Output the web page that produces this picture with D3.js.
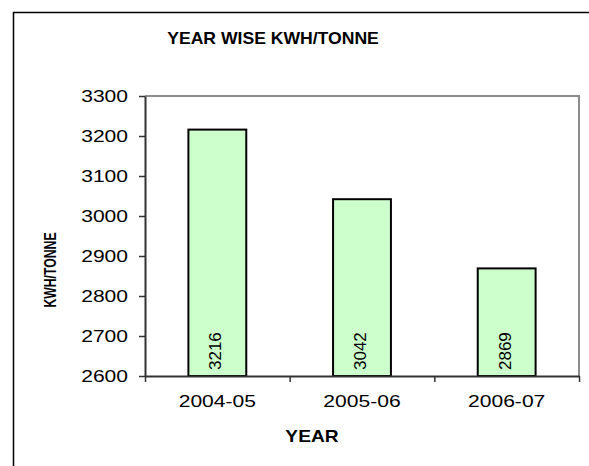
<!DOCTYPE html>
<html>
<head>
<meta charset="utf-8">
<script src="https://cdn.jsdelivr.net/npm/d3@7"></script>
<style>
  body { margin: 0; background: #fff; }
  text { font-family: "Liberation Sans", Arial, sans-serif; fill: #000; }
</style>
</head>
<body>
<div id="chart"></div>
<script>
// data
var years = ["2004-05", "2005-06", "2006-07"];
var kwhPerTonne = [3216, 3042, 2869];
var yTicks = [2600, 2700, 2800, 2900, 3000, 3100, 3200, 3300];

var margin = { top: 96, right: 10, bottom: 90, left: 145 };
var width = 589 - margin.left - margin.right,
    height = 466 - margin.top - margin.bottom;

var svg = d3.select("#chart").append("svg")
    .attr("width", 589)
    .attr("height", 466);

// outer chart frame (runs off right and bottom)
svg.append("rect")
    .attr("x", 13.5).attr("y", 12.5)
    .attr("width", 700).attr("height", 600)
    .attr("fill", "#fff")
    .attr("stroke", "#000")
    .attr("stroke-width", 1.5);

var g = svg.append("g")
    .attr("transform", "translate(" + margin.left + "," + margin.top + ")");

var x = d3.scaleBand()
    .domain(years)
    .range([0, width])
    .paddingInner(0.6)
    .paddingOuter(0.3);

var xEdges = d3.scaleLinear()
    .domain([0, years.length])
    .range([0, width]);

var y = d3.scaleLinear()
    .domain([yTicks[0], yTicks[yTicks.length - 1]])
    .range([height, 0]);

// plot area border (top + right, grey)
g.append("path")
    .attr("d", "M0,0H" + width + "V" + height)
    .attr("fill", "none")
    .attr("stroke", "#8c8c8c")
    .attr("stroke-width", 2);

// bars
g.selectAll(".bar")
    .data(kwhPerTonne)
    .enter()
    .append("rect")
    .attr("class", "bar")
    .attr("x", function (d, i) { return x(years[i]); })
    .attr("y", function (d) { return y(d); })
    .attr("width", x.bandwidth())
    .attr("height", function (d) { return height - y(d); })
    .attr("fill", "#ccffcc")
    .attr("stroke", "#000")
    .attr("stroke-width", 2);

// value labels, written upwards inside bars
g.selectAll(".val")
    .data(kwhPerTonne)
    .enter()
    .append("text")
    .attr("class", "val")
    .attr("transform", function (d, i) {
        return "translate(" + (x(years[i]) + x.bandwidth() / 2 + 4) + "," + (height - 6) + ") rotate(-90)";
    })
    .attr("font-size", "17px")
    .attr("text-anchor", "start")
    .text(function (d) { return d; });

// y axis
var yAxis = d3.axisLeft(y)
    .tickValues(yTicks)
    .tickFormat(d3.format("d"))
    .tickSize(6)
    .tickSizeOuter(0)
    .tickPadding(11);

var gy = g.append("g").call(yAxis);
gy.select(".domain").attr("stroke", "#333").attr("stroke-width", 2);
gy.selectAll(".tick line").attr("stroke", "#333").attr("stroke-width", 1.5);
gy.selectAll("text")
    .attr("font-size", "17px")
    .attr("x", -17 / 1.24)
    .attr("transform", "scale(1.24,1)");

// x axis: tick marks at the category edges
var gxEdges = g.append("g")
    .attr("transform", "translate(0," + height + ")")
    .call(d3.axisBottom(xEdges)
        .tickValues(d3.range(years.length + 1))
        .tickFormat("")
        .tickSize(6)
        .tickSizeOuter(0));
gxEdges.select(".domain").attr("stroke", "#333").attr("stroke-width", 2);
gxEdges.selectAll(".tick line").attr("stroke", "#333").attr("stroke-width", 1.5);

// x axis labels
var gx = g.append("g")
    .attr("transform", "translate(0," + height + ")")
    .call(d3.axisBottom(x).tickSize(0).tickPadding(19));
gx.select(".domain").remove();
gx.selectAll("text")
    .attr("font-size", "17px")
    .attr("transform", "scale(1.24,1)");

// title
svg.append("text")
    .attr("transform", "translate(273,43.5) scale(1.1,1)")
    .attr("text-anchor", "middle")
    .attr("font-size", "16px")
    .attr("font-weight", "bold")
    .text("YEAR WISE KWH/TONNE");

// x axis title
svg.append("text")
    .attr("transform", "translate(312,442) scale(1.2,1)")
    .attr("text-anchor", "middle")
    .attr("font-size", "16px")
    .attr("font-weight", "bold")
    .text("YEAR");

// y axis title (squeezed like the original)
svg.append("text")
    .attr("transform", "translate(56,270) rotate(-90) scale(0.72,1)")
    .attr("text-anchor", "middle")
    .attr("font-size", "17px")
    .attr("font-weight", "bold")
    .text("KWH/TONNE");
</script>
</body>
</html>
